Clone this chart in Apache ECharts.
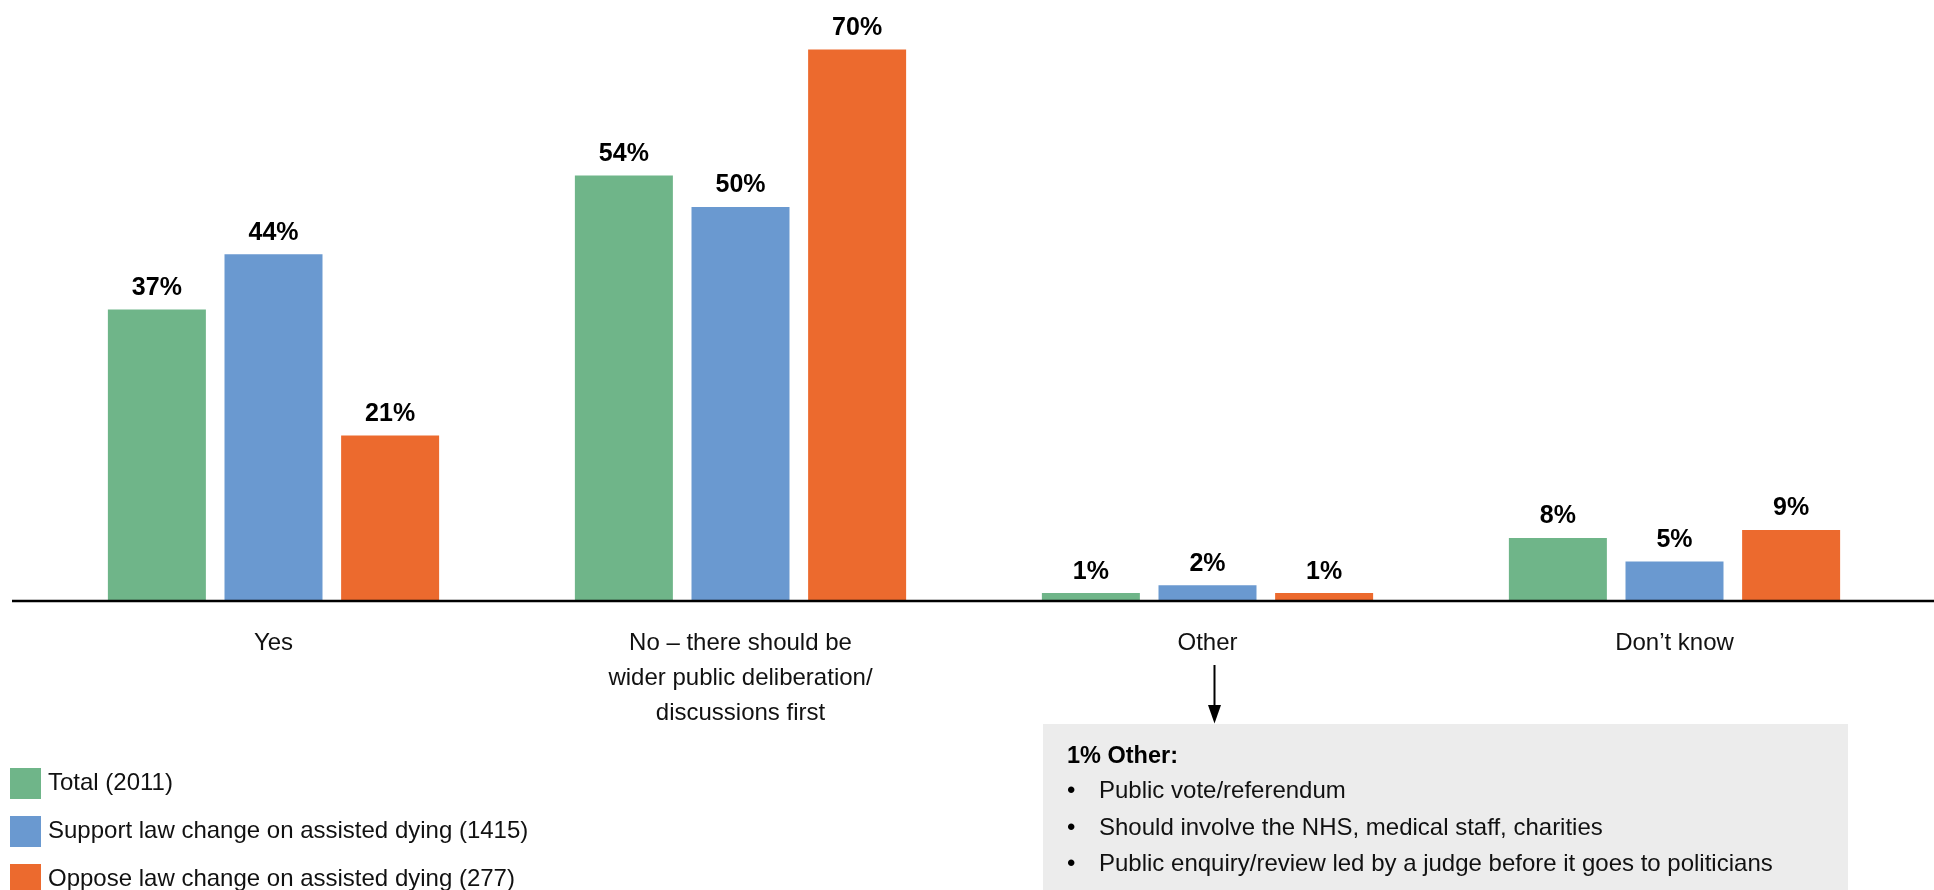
<!DOCTYPE html>
<html>
<head>
<meta charset="utf-8">
<title>Should the law on assisted dying be changed now?</title>
<script src="https://cdn.jsdelivr.net/npm/echarts@6/dist/echarts.min.js"></script>
<style>
  html, body { margin: 0; padding: 0; background: #ffffff; }
  #chart { width: 1934px; height: 890px; }
</style>
</head>
<body>
<div id="chart"></div>
<script>
// Answer categories (x axis)
const categories = [
  'Yes',
  'No \u2013 there should be\nwider public deliberation/\ndiscussions first',
  'Other',
  'Don\u2019t know'
];

// Series names (legend) and values in percent
const seriesNames = [
  'Total (2011)',
  'Support law change on assisted dying (1415)',
  'Oppose law change on assisted dying (277)'
];
const totalValues   = [37, 54, 1, 8];
const supportValues = [44, 50, 2, 5];
const opposeValues  = [21, 70, 1, 9];

// Breakdown of the "Other" answers shown in the note box
const otherTitle = '1% Other:';
const otherItems = [
  'Public vote/referendum',
  'Should involve the NHS, medical staff, charities',
  'Public enquiry/review led by a judge before it goes to politicians'
];

const colors = ['#6fb589', '#6a99d0', '#ec6a2e'];
const FONT = '"Liberation Sans", Arial, Helvetica, sans-serif';

const chart = echarts.init(document.getElementById('chart'), null, { renderer: 'canvas' });

function barSeries(name, values, color) {
  return {
    name: name,
    type: 'bar',
    data: values,
    barWidth: 98,
    barGap: '19%',
    itemStyle: { color: color },
    label: {
      show: true,
      position: 'top',
      distance: 9,
      formatter: '{c}%',
      fontFamily: FONT,
      fontWeight: 'bold',
      fontSize: 25,
      color: '#000'
    },
    emphasis: { disabled: true }
  };
}

// One legend block per series, stacked down the lower-left corner
const legendTop = 768, legendStep = 48;
const legends = seriesNames.map(function (name, i) {
  return {
    orient: 'vertical',
    left: 10,
    top: legendTop + i * legendStep,
    padding: 0,
    itemWidth: 31,
    itemHeight: 31,
    icon: 'rect',
    selectedMode: false,
    data: [name],
    textStyle: {
      fontFamily: FONT,
      fontSize: 24,
      color: '#111',
      padding: [5, 0, 0, 2]
    }
  };
});

const option = {
  animation: false,
  backgroundColor: '#ffffff',
  grid: { left: 40, right: 26, top: 10, bottom: 289, containLabel: false },
  legend: legends,
  xAxis: {
    type: 'category',
    data: categories,
    axisLine: { show: false },
    axisTick: { show: false },
    axisLabel: {
      interval: 0,
      margin: 25,
      fontFamily: FONT,
      fontSize: 24,
      lineHeight: 35,
      color: '#111'
    }
  },
  yAxis: {
    type: 'value',
    min: 0,
    max: 75,
    show: false,
    splitLine: { show: false }
  },
  series: [
    barSeries(seriesNames[0], totalValues, colors[0]),
    barSeries(seriesNames[1], supportValues, colors[1]),
    barSeries(seriesNames[2], opposeValues, colors[2])
  ]
};

chart.setOption(option);

// Baseline across the full width, the arrow from "Other" and its note box
const baseY = chart.convertToPixel({ yAxisIndex: 0 }, 0);
const otherX = chart.convertToPixel({ xAxisIndex: 0 }, categories[2]) + 7;

const noteLeft = 1043, noteTop = 724, noteRight = 1848;
const textX = 1099, firstRowY = 791.7, rowStep = 36.3;

const graphics = [
  {
    type: 'line',
    shape: { x1: 12, y1: baseY, x2: 1934, y2: baseY },
    style: { stroke: '#000', lineWidth: 2.5 },
    z: 10
  },
  {
    type: 'line',
    shape: { x1: otherX, y1: 665, x2: otherX, y2: 708 },
    style: { stroke: '#000', lineWidth: 2 }
  },
  {
    type: 'polygon',
    shape: { points: [[otherX - 6.5, 705], [otherX + 6.5, 705], [otherX, 723.5]] },
    style: { fill: '#000' }
  },
  {
    type: 'rect',
    shape: { x: noteLeft, y: noteTop, width: noteRight - noteLeft, height: 890 - noteTop + 10 },
    style: { fill: '#ececec' },
    z: 1
  },
  {
    type: 'text',
    x: 1067, y: 756.7,
    style: {
      text: otherTitle,
      font: 'bold 23.5px ' + FONT,
      fill: '#000',
      verticalAlign: 'middle'
    },
    z: 2
  }
];

otherItems.forEach(function (item, i) {
  const y = firstRowY + i * rowStep;
  graphics.push({
    type: 'text',
    x: 1067, y: y,
    style: { text: '\u2022', font: '24px ' + FONT, fill: '#000', verticalAlign: 'middle' },
    z: 2
  });
  graphics.push({
    type: 'text',
    x: textX, y: y,
    style: { text: item, font: '24px ' + FONT, fill: '#111', verticalAlign: 'middle' },
    z: 2
  });
});

chart.setOption({ graphic: graphics });
</script>
</body>
</html>
